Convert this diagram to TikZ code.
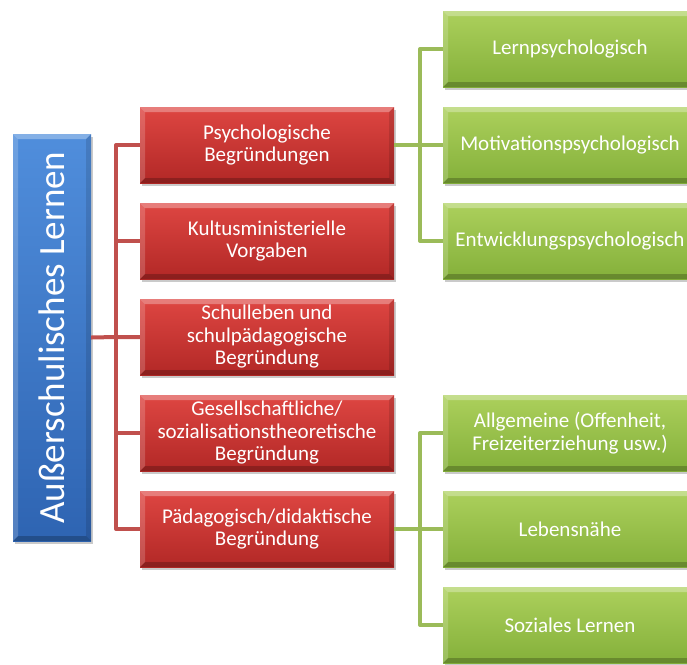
\documentclass[tikz,border=0pt]{standalone}
\usepackage{fontspec}
\setmainfont{Carlito}
\usetikzlibrary{shadows,calc}
\definecolor{redline}{RGB}{192,80,77}
\definecolor{greenline}{RGB}{155,187,89}
\definecolor{redtop}{RGB}{222,70,66}
\definecolor{redbot}{RGB}{178,40,38}
\definecolor{greentop}{RGB}{172,208,92}
\definecolor{greenbot}{RGB}{132,176,58}
\definecolor{bluetop}{RGB}{80,142,220}
\definecolor{bluebot}{RGB}{46,100,178}
\tikzset{
  x=1pt,y=1pt,
  bevel/.style={path picture={
    \fill[white,opacity=.30] (path picture bounding box.north west) -- (path picture bounding box.north east)
      -- ([xshift=-#1,yshift=-#1]path picture bounding box.north east) -- ([xshift=#1,yshift=-#1]path picture bounding box.north west) -- cycle;
    \fill[white,opacity=.18] (path picture bounding box.north west) -- (path picture bounding box.south west)
      -- ([xshift=#1,yshift=#1]path picture bounding box.south west) -- ([xshift=#1,yshift=-#1]path picture bounding box.north west) -- cycle;
    \fill[black,opacity=.22] (path picture bounding box.south west) -- (path picture bounding box.south east)
      -- ([xshift=-#1,yshift=#1]path picture bounding box.south east) -- ([xshift=#1,yshift=#1]path picture bounding box.south west) -- cycle;
    \fill[black,opacity=.12] (path picture bounding box.north east) -- (path picture bounding box.south east)
      -- ([xshift=-#1,yshift=#1]path picture bounding box.south east) -- ([xshift=-#1,yshift=-#1]path picture bounding box.north east) -- cycle;
  }},
  box/.style={rectangle, inner sep=2pt, text=white, align=center,
    font=\fontsize{21}{22.5}\selectfont,
    drop shadow={shadow xshift=2pt, shadow yshift=-3pt, opacity=.35, fill=black!60}},
  redbox/.style={box, minimum width=254, minimum height=76, top color=redtop, bottom color=redbot, bevel=5},
  greenbox/.style={box, minimum width=254, minimum height=76, top color=greentop, bottom color=greenbot, bevel=5},
  bluebox/.style={box, minimum width=78, minimum height=407, top color=bluetop, bottom color=bluebot, bevel=5},
  rline/.style={draw=redline, line width=4pt, line join=round},
  gline/.style={draw=greenline, line width=4pt, line join=round},
}
\begin{document}
\begin{tikzpicture}
\useasboundingbox (0,0) rectangle (687,-664);
\clip (0,0) rectangle (687,-664);

\coordinate (jr) at (116,-337);
\coordinate (jg1) at (420,-145);
\coordinate (jg2) at (420,-529);

\node[bluebox] (root) at (52,-337.5) {};
\node[rotate=90, text=white, font=\fontsize{37}{40}\selectfont] (roottext) at (root.center) {Außerschulisches Lernen};

\node[redbox] (r1) at (267,-145) {Psychologische\\Begründungen};
\node[redbox] (r2) at (267,-241) {Kultusministerielle\\Vorgaben};
\node[redbox] (r3) at (267,-337) {Schulleben und\\schulpädagogische\\Begründung};
\node[redbox] (r4) at (267,-433) {Gesellschaftliche/\\sozialisationstheoretische\\Begründung};
\node[redbox] (r5) at (267,-529) {Pädagogisch/didaktische\\Begründung};

\node[greenbox] (g1) at (570,-49) {Lernpsychologisch};
\node[greenbox] (g2) at (570,-145) {Motivationspsychologisch};
\node[greenbox] (g3) at (570,-241) {Entwicklungspsychologisch};
\node[greenbox] (g4) at (570,-433) {Allgemeine (Offenheit,\\Freizeiterziehung usw.)};
\node[greenbox] (g5) at (570,-529) {Lebensnähe};
\node[greenbox] (g6) at (570,-625) {Soziales Lernen};

% red connectors
\path[rline] (r1.west) -- (r1.west -| jr) -- (r5.west -| jr) -- (r5.west);
\path[rline] (root.east) -- (jr) -- (r3.west);
\path[rline] (r2.west -| jr) -- (r2.west);
\path[rline] (r4.west -| jr) -- (r4.west);

% green connectors
\path[gline] (r1.east) -- (jg1);
\path[gline] (g1.west) -- (g1.west -| jg1) -- (g3.west -| jg1) -- (g3.west);
\path[gline] (jg1) -- (g2.west);
\path[gline] (r5.east) -- (jg2);
\path[gline] (g4.west) -- (g4.west -| jg2) -- (g6.west -| jg2) -- (g6.west);
\path[gline] (jg2) -- (g5.west);
\end{tikzpicture}
\end{document}
